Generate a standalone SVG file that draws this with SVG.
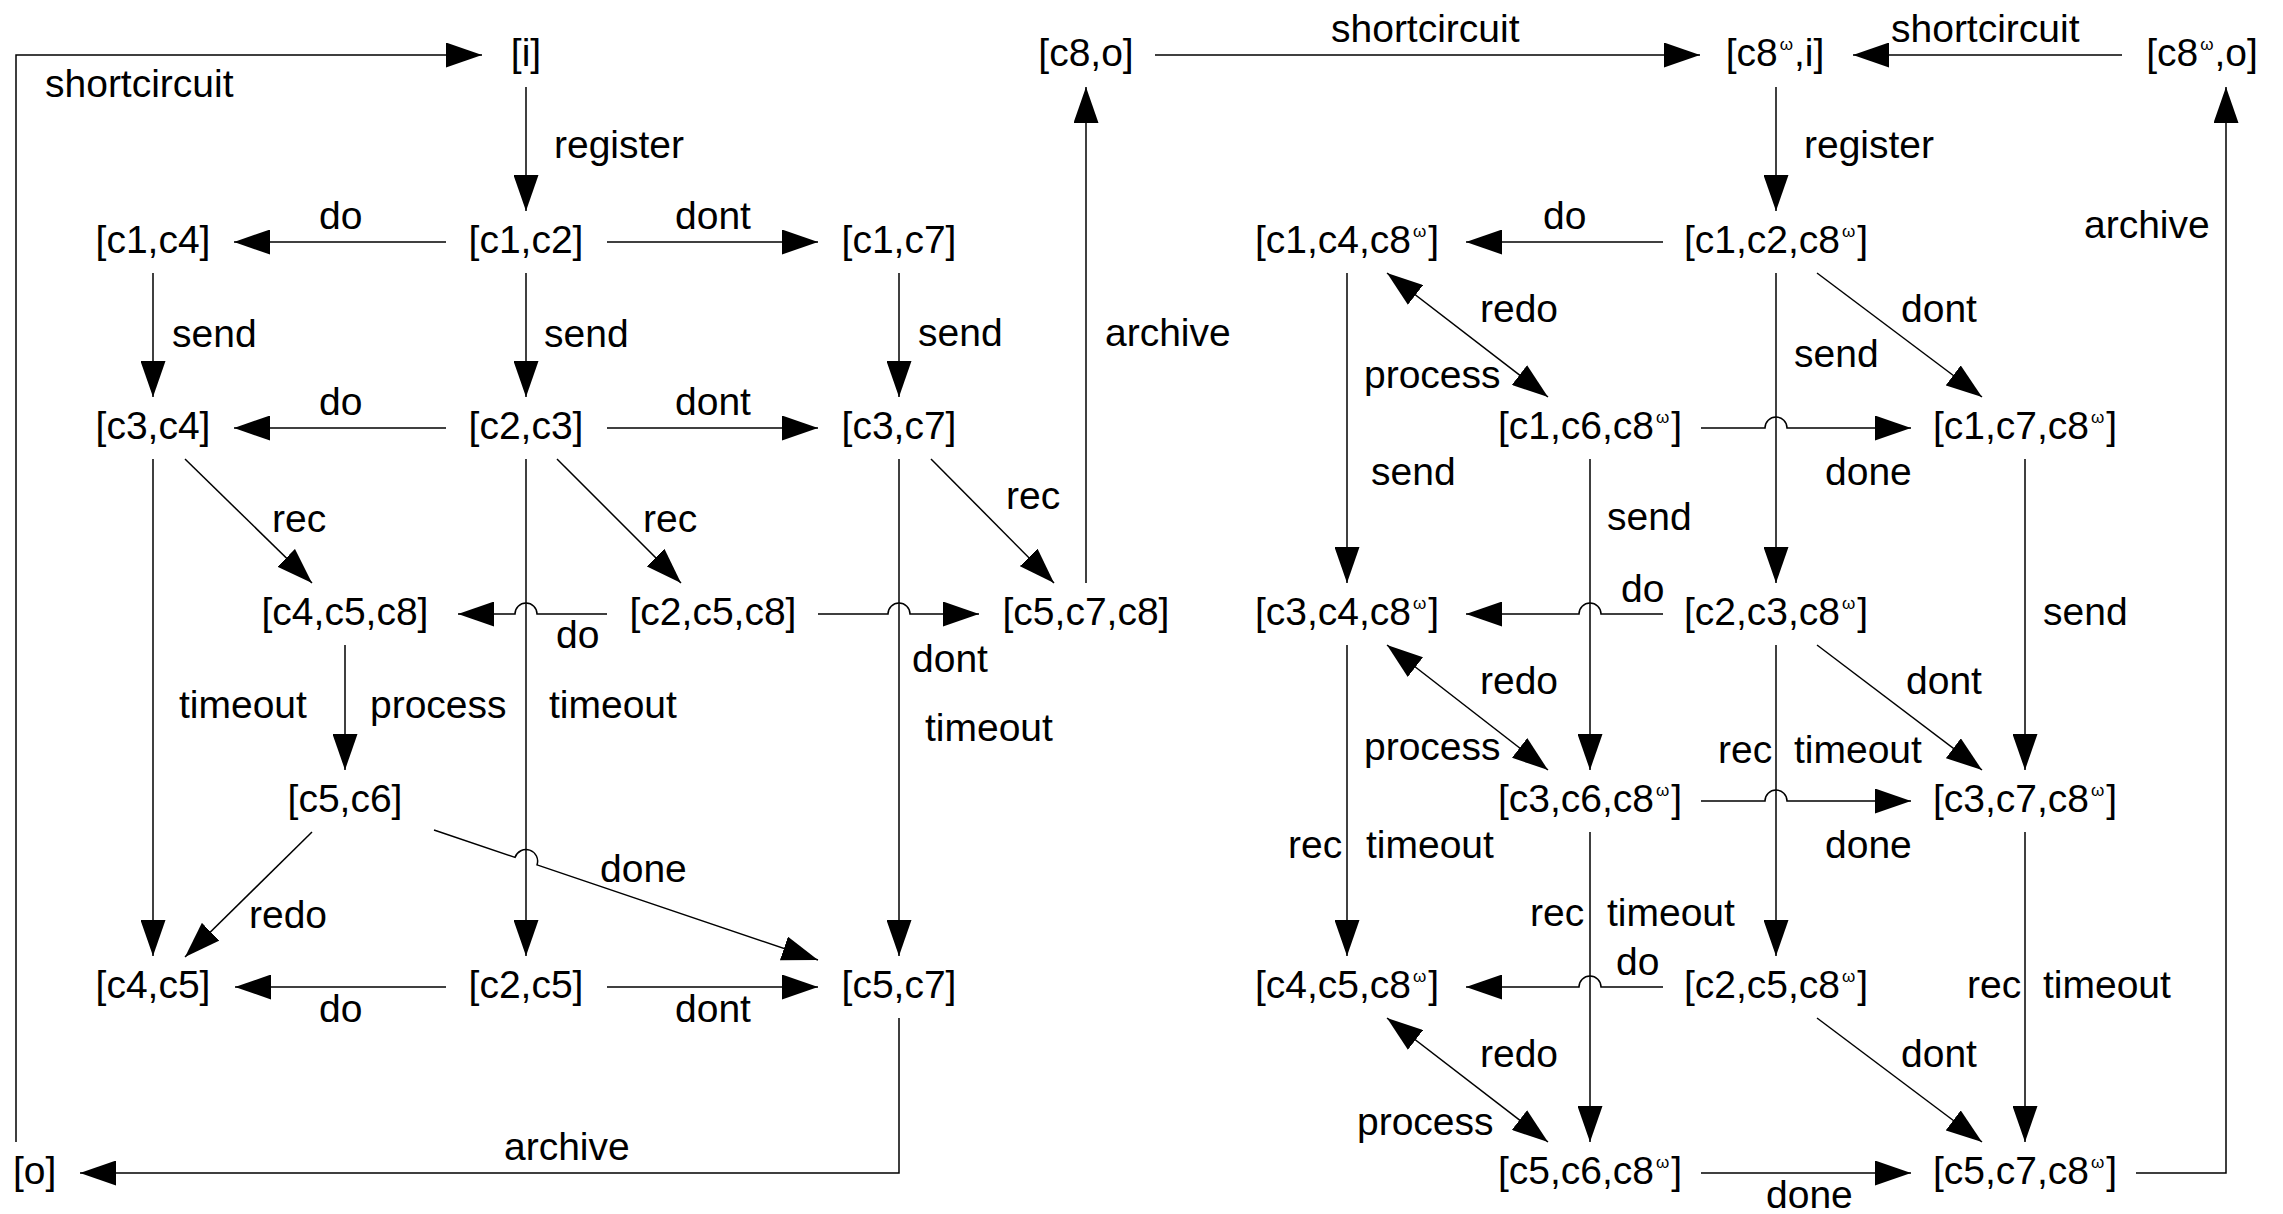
<svg xmlns="http://www.w3.org/2000/svg" width="2283" height="1214" viewBox="0 0 2283 1214">
<style>
text{font-family:"Liberation Sans",Arial,sans-serif;font-size:39px;fill:#000}
.n{text-anchor:middle}
.w{font-size:17px}
#edges path{fill:none;stroke:#000;stroke-width:1.5;marker-end:url(#ah)}
#edges path.dbl{marker-start:url(#ah)}
</style>
<defs>
<marker id="ah" markerUnits="userSpaceOnUse" markerWidth="36" markerHeight="25" refX="36" refY="12.5" orient="auto-start-reverse" viewBox="0 0 36 25">
<path d="M0,0 L36,12.5 L0,25 Z" fill="#000"/>
</marker>
</defs>
<rect width="2283" height="1214" fill="#fff"/>
<g id="edges">
<path d="M16,1142 V55 H482"/>
<path d="M526,87 V211"/>
<path d="M446,242 H234"/>
<path d="M607,242 H818"/>
<path d="M153,273 V397"/>
<path d="M526,273 V397"/>
<path d="M899,273 V397"/>
<path d="M446,428 H234"/>
<path d="M607,428 H818"/>
<path d="M185,459 L312,583"/>
<path d="M557,459 L681,583"/>
<path d="M931,459 L1054,583"/>
<path d="M153,459 V956"/>
<path d="M526,459 V956"/>
<path d="M899,459 V956"/>
<path d="M607,614 H537 A11,11 0 0 0 515,614 H458"/>
<path d="M818,614 H888 A11,11 0 0 1 910,614 H979"/>
<path d="M1086,583 V87"/>
<path d="M345,645 V770"/>
<path d="M312,832 L185,957"/>
<path d="M434,830 L515,857.4 A11.6,11.6 0 0 1 537,864.9 L818,960"/>
<path d="M446,987 H235"/>
<path d="M607,987 H818"/>
<path d="M899,1018 V1173 H80"/>
<path d="M1155,55 H1700"/>
<path d="M2122,55 H1853"/>
<path d="M1776,87 V211"/>
<path d="M1663,242 H1466"/>
<path d="M1817,273 L1982,397"/>
<path d="M1776,273 V583"/>
<path class="dbl" d="M1387,273 L1548,397"/>
<path d="M1347,273 V583"/>
<path d="M1701,428 H1765 A11,11 0 0 1 1787,428 H1911"/>
<path d="M1590,459 V770"/>
<path d="M2025,459 V770"/>
<path d="M2136,1173 H2226 V87"/>
<path d="M1663,614 H1601 A11,11 0 0 0 1579,614 H1466"/>
<path d="M1817,645 L1982,770"/>
<path d="M1776,645 V956"/>
<path class="dbl" d="M1387,645 L1548,770"/>
<path d="M1701,801 H1765 A11,11 0 0 1 1787,801 H1911"/>
<path d="M1347,645 V956"/>
<path d="M1590,832 V1142"/>
<path d="M2025,832 V1142"/>
<path d="M1663,987 H1601 A11,11 0 0 0 1579,987 H1466"/>
<path d="M1817,1018 L1982,1142"/>
<path class="dbl" d="M1387,1018 L1548,1142"/>
<path d="M1701,1173 H1911"/>
</g>
<g id="edge-labels">
<text x="45" y="97">shortcircuit</text>
<text x="554" y="158">register</text>
<text x="319" y="229">do</text>
<text x="675" y="229">dont</text>
<text x="172" y="347">send</text>
<text x="544" y="347">send</text>
<text x="918" y="346">send</text>
<text x="1105" y="346">archive</text>
<text x="319" y="415">do</text>
<text x="675" y="415">dont</text>
<text x="272" y="532">rec</text>
<text x="643" y="532">rec</text>
<text x="1006" y="509">rec</text>
<text x="556" y="648">do</text>
<text x="912" y="672">dont</text>
<text x="179" y="718">timeout</text>
<text x="370" y="718">process</text>
<text x="549" y="718">timeout</text>
<text x="925" y="741">timeout</text>
<text x="600" y="882">done</text>
<text x="249" y="928">redo</text>
<text x="319" y="1022">do</text>
<text x="675" y="1022">dont</text>
<text x="504" y="1160">archive</text>
<text x="1331" y="42">shortcircuit</text>
<text x="1891" y="42">shortcircuit</text>
<text x="1804" y="158">register</text>
<text x="1543" y="229">do</text>
<text x="2084" y="238">archive</text>
<text x="1480" y="322">redo</text>
<text x="1901" y="322">dont</text>
<text x="1794" y="367">send</text>
<text x="1364" y="388">process</text>
<text x="1371" y="485">send</text>
<text x="1825" y="485">done</text>
<text x="1607" y="530">send</text>
<text x="1621" y="602">do</text>
<text x="2043" y="625">send</text>
<text x="1480" y="694">redo</text>
<text x="1906" y="694">dont</text>
<text x="1364" y="760">process</text>
<text x="1718" y="763">rec</text>
<text x="1794" y="763">timeout</text>
<text x="1288" y="858">rec</text>
<text x="1366" y="858">timeout</text>
<text x="1825" y="858">done</text>
<text x="1530" y="926">rec</text>
<text x="1607" y="926">timeout</text>
<text x="1616" y="975">do</text>
<text x="1967" y="998">rec</text>
<text x="2043" y="998">timeout</text>
<text x="1480" y="1067">redo</text>
<text x="1901" y="1067">dont</text>
<text x="1357" y="1135">process</text>
<text x="1766" y="1208">done</text>
</g>
<g id="n-i"><text class="n" x="526" y="66">[i]</text></g>
<g id="n-c1c4"><text class="n" x="153" y="253">[c1,c4]</text></g>
<g id="n-c1c2"><text class="n" x="526" y="253">[c1,c2]</text></g>
<g id="n-c1c7"><text class="n" x="899" y="253">[c1,c7]</text></g>
<g id="n-c3c4"><text class="n" x="153" y="439">[c3,c4]</text></g>
<g id="n-c2c3"><text class="n" x="526" y="439">[c2,c3]</text></g>
<g id="n-c3c7"><text class="n" x="899" y="439">[c3,c7]</text></g>
<g id="n-c4c5c8"><text class="n" x="345" y="625">[c4,c5,c8]</text></g>
<g id="n-c2c5c8"><text class="n" x="713" y="625">[c2,c5,c8]</text></g>
<g id="n-c5c7c8"><text class="n" x="1086" y="625">[c5,c7,c8]</text></g>
<g id="n-c5c6"><text class="n" x="345" y="812">[c5,c6]</text></g>
<g id="n-c4c5"><text class="n" x="153" y="998">[c4,c5]</text></g>
<g id="n-c2c5"><text class="n" x="526" y="998">[c2,c5]</text></g>
<g id="n-c5c7"><text class="n" x="899" y="998">[c5,c7]</text></g>
<g id="n-o"><text x="13" y="1184">[o]</text></g>
<g id="n-c8o"><text class="n" x="1086" y="66">[c8,o]</text></g>
<g id="n-c8wi"><text class="n" x="1775" y="66">[c8<tspan class="w" dx="2" dy="-16">ω</tspan><tspan dx="1" dy="16">,i]</tspan></text></g>
<g id="n-c8wo"><text class="n" x="2202" y="66">[c8<tspan class="w" dx="2" dy="-16">ω</tspan><tspan dx="1" dy="16">,o]</tspan></text></g>
<g id="n-c1c4c8w"><text class="n" x="1347" y="253">[c1,c4,c8<tspan class="w" dx="2" dy="-16">ω</tspan><tspan dx="2" dy="16">]</tspan></text></g>
<g id="n-c1c2c8w"><text class="n" x="1776" y="253">[c1,c2,c8<tspan class="w" dx="2" dy="-16">ω</tspan><tspan dx="2" dy="16">]</tspan></text></g>
<g id="n-c1c6c8w"><text class="n" x="1590" y="439">[c1,c6,c8<tspan class="w" dx="2" dy="-16">ω</tspan><tspan dx="2" dy="16">]</tspan></text></g>
<g id="n-c1c7c8w"><text class="n" x="2025" y="439">[c1,c7,c8<tspan class="w" dx="2" dy="-16">ω</tspan><tspan dx="2" dy="16">]</tspan></text></g>
<g id="n-c3c4c8w"><text class="n" x="1347" y="625">[c3,c4,c8<tspan class="w" dx="2" dy="-16">ω</tspan><tspan dx="2" dy="16">]</tspan></text></g>
<g id="n-c2c3c8w"><text class="n" x="1776" y="625">[c2,c3,c8<tspan class="w" dx="2" dy="-16">ω</tspan><tspan dx="2" dy="16">]</tspan></text></g>
<g id="n-c3c6c8w"><text class="n" x="1590" y="812">[c3,c6,c8<tspan class="w" dx="2" dy="-16">ω</tspan><tspan dx="2" dy="16">]</tspan></text></g>
<g id="n-c3c7c8w"><text class="n" x="2025" y="812">[c3,c7,c8<tspan class="w" dx="2" dy="-16">ω</tspan><tspan dx="2" dy="16">]</tspan></text></g>
<g id="n-c4c5c8w"><text class="n" x="1347" y="998">[c4,c5,c8<tspan class="w" dx="2" dy="-16">ω</tspan><tspan dx="2" dy="16">]</tspan></text></g>
<g id="n-c2c5c8w"><text class="n" x="1776" y="998">[c2,c5,c8<tspan class="w" dx="2" dy="-16">ω</tspan><tspan dx="2" dy="16">]</tspan></text></g>
<g id="n-c5c6c8w"><text class="n" x="1590" y="1184">[c5,c6,c8<tspan class="w" dx="2" dy="-16">ω</tspan><tspan dx="2" dy="16">]</tspan></text></g>
<g id="n-c5c7c8w"><text class="n" x="2025" y="1184">[c5,c7,c8<tspan class="w" dx="2" dy="-16">ω</tspan><tspan dx="2" dy="16">]</tspan></text></g>
</svg>
